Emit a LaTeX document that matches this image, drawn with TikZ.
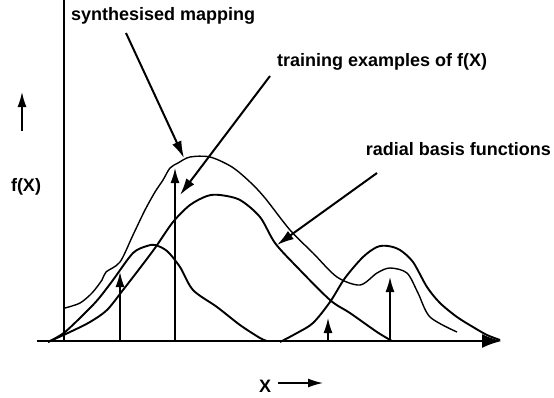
\documentclass[tikz,border=0pt]{standalone}
\usepackage{fontspec}
\setmainfont{Liberation Sans}
\usetikzlibrary{arrows.meta}

\begin{document}
\begin{tikzpicture}[x=1pt,y=-1pt,>={Latex[length=17pt,width=10pt]},
  font=\bfseries\fontsize{18}{21}\selectfont,
  rbf/.style={line width=1.9pt,line join=round},
  mapping/.style={line width=1.4pt,line join=round},
  sample/.style={->,line width=1.5pt,>={Latex[length=15pt,width=9pt]}},
  pointer/.style={->,line width=2pt},
  lbl/.style={anchor=base west,inner sep=0pt}]
\useasboundingbox (0,0) rectangle (554,397);
% labels
\node[lbl] (SM) at (71,20) {synthesised mapping};
\node[lbl] (TE) at (277,66) {training examples of f(X)};
\node[lbl,anchor=base east] (RB) at (551,155) {radial basis functions};
\node[inner sep=0pt] (FX) at (26,187) {f(X)};
\node[inner sep=0pt] (XL) at (265,386) {X};
% axes
\coordinate (O) at (64,341);
\coordinate (Ytop) at (64,0);
\coordinate (Xs) at (37,341);
\coordinate (Xe) at (502,341);
\draw[line width=2.4pt,-{Latex[length=20pt,width=14pt]}] (Xs) -- (Xe);
\draw[line width=1.3pt] (O) -- (Ytop);
\coordinate (F0) at (22,131);
\coordinate (F1) at (22,92);
\draw[sample] (F0) -- (F1);
\coordinate (X0) at (278,383);
\coordinate (X1) at (323,383);
\draw[sample] (X0) -- (X1);
% radial basis functions
\draw[rbf] plot[smooth,tension=0.5] coordinates {(48,342) (65,332) (90,308) (100,297)
  (113,280) (133,253) (147,246) (155,245) (167,251) (180,267) (193,290) (217,307)
  (240,325) (260,338) (267,341)};
\draw[rbf] plot[smooth,tension=0.5] coordinates {(48,342) (70,332) (90,322) (107,310)
  (123,290) (140,268) (155,248) (173,222) (190,205) (207,196) (220,195) (240,200)
  (260,217) (275,243) (297,267) (330,300) (350,313) (377,332) (392,341)};
\draw[rbf] plot[smooth,tension=0.5] coordinates {(280,342) (297,333) (313,323) (330,302)
  (345,278) (363,257) (377,247) (388,246) (400,250) (413,262) (427,287) (440,303)
  (457,317) (473,327) (487,335) (500,340)};
% synthesised mapping
\draw[mapping] plot[smooth,tension=0.5] coordinates {(65,308) (80,303) (92,293) (102,280)
  (106,272) (120,262) (133,235) (145,210) (155,192) (163,180) (170,168) (178,163)
  (190,157) (210,157) (232,167) (250,182) (265,198) (290,230) (313,253) (337,277)
  (360,285) (377,273) (390,268) (407,273) (418,293) (430,317) (457,332)};
% training examples
\foreach \x/\y [count=\i] in {120/272,175/168,328/318,390/277} {
  \coordinate (B\i) at (\x,341);
  \coordinate (T\i) at (\x,\y);
  \draw[sample] (B\i) -- (T\i);
}
% pointers
\coordinate (P1) at (126,33);
\coordinate (Q1) at (184,158);
\coordinate (P2) at (270,76);
\coordinate (Q2) at (180,195);
\coordinate (P3) at (377,173);
\coordinate (Q3) at (277,245);
\draw[pointer] (P1) -- (Q1);
\draw[pointer] (P2) -- (Q2);
\draw[pointer] (P3) -- (Q3);
\end{tikzpicture}
\end{document}
